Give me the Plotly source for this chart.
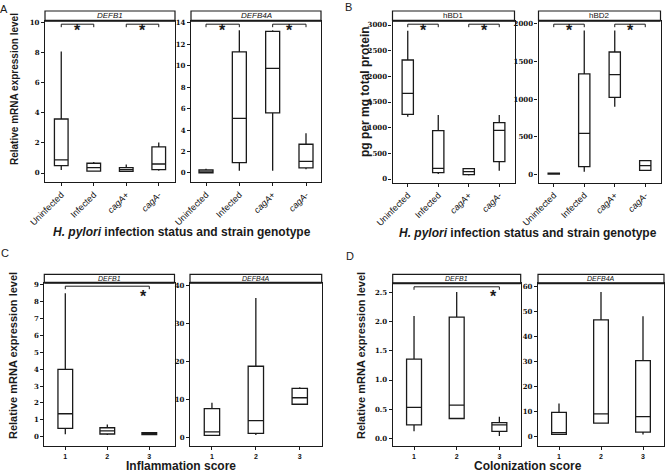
import plotly.graph_objects as go

W, H = 667, 476

# ---------------- data ----------------
infection_cats = ["Uninfected", "Infected", "cagA+", "cagA-"]
infection_ticktext = ["Uninfected", "Infected", "<i>cagA</i>+", "<i>cagA</i>-"]
score_cats = ["1", "2", "3"]

# Panel A: relative mRNA expression by infection status / strain genotype
A_defb1_low = [0.20, 0.10, 0.07, 0.15]
A_defb1_q1 = [0.49, 0.13, 0.11, 0.22]
A_defb1_med = [0.87, 0.36, 0.22, 0.60]
A_defb1_q3 = [3.60, 0.65, 0.36, 1.74]
A_defb1_high = [8.10, 0.73, 0.56, 2.03]

A_defb4a_low = [0.00, 0.22, 0.22, 0.34]
A_defb4a_q1 = [0.02, 0.97, 5.60, 0.47]
A_defb4a_med = [0.10, 5.10, 9.76, 1.09]
A_defb4a_q3 = [0.28, 11.30, 13.20, 2.68]
A_defb4a_high = [0.40, 13.30, 13.30, 3.70]

# Panel B: pg per mg total protein
B_hbd1_low = [1214, 97, 70, 162]
B_hbd1_q1 = [1260, 123, 84, 338]
B_hbd1_med = [1669, 208, 143, 948]
B_hbd1_q3 = [2318, 942, 201, 1097]
B_hbd1_high = [2890, 1247, 210, 1247]

B_hbd2_low = [0, 35, 900, 45]
B_hbd2_q1 = [2, 102, 1024, 53]
B_hbd2_med = [8, 545, 1326, 115]
B_hbd2_q3 = [15, 1335, 1627, 182]
B_hbd2_high = [18, 1911, 1911, 190]

# Panel C: by inflammation score
C_defb1_low = [0.14, 0.10, 0.12]
C_defb1_q1 = [0.49, 0.16, 0.13]
C_defb1_med = [1.36, 0.34, 0.18]
C_defb1_q3 = [3.99, 0.53, 0.24]
C_defb1_high = [8.49, 0.73, 0.26]

C_defb4a_low = [0.5, 0.6, 8.5]
C_defb4a_q1 = [0.5, 1.0, 8.7]
C_defb4a_med = [1.4, 4.4, 10.4]
C_defb4a_q3 = [7.55, 18.7, 12.9]
C_defb4a_high = [9.1, 36.7, 13.2]

# Panel D: by colonization score
D_defb1_low = [0.12, 0.34, 0.04]
D_defb1_q1 = [0.23, 0.34, 0.12]
D_defb1_med = [0.53, 0.57, 0.23]
D_defb1_q3 = [1.36, 2.08, 0.27]
D_defb1_high = [2.10, 2.51, 0.37]

D_defb4a_low = [0.9, 5.4, 0.9]
D_defb4a_q1 = [0.9, 5.4, 1.8]
D_defb4a_med = [1.6, 9.1, 8.0]
D_defb4a_q3 = [9.7, 46.5, 30.3]
D_defb4a_high = [13.2, 57.6, 48.0]

# --------------- layout specs ---------------
def px(x):
    return x / W


def py(y):
    return 1 - y / H


FONT = "Liberation Sans, Arial, sans-serif"
INK = "#1a1a1a"

subplots = [
    dict(cats=infection_cats, tt=infection_ticktext,
         stats=(A_defb1_low, A_defb1_q1, A_defb1_med, A_defb1_q3, A_defb1_high),
         bw=0.42, box=(45, 175, 11, 20.7, 182), yr=[-0.6, 10.15], dt=2, fmt="d",
         strip="<i>DEFB1</i>", xr=[-0.5, 3.5], rot=True),
    dict(cats=infection_cats, tt=infection_ticktext,
         stats=(A_defb4a_low, A_defb4a_q1, A_defb4a_med, A_defb4a_q3, A_defb4a_high),
         bw=0.42, box=(191, 321, 11, 20.7, 182), yr=[-0.84, 14.2], dt=2, fmt="d",
         strip="<i>DEFB4A</i>", xr=[-0.45, 3.45], rot=True),
    dict(cats=infection_cats, tt=infection_ticktext,
         stats=(B_hbd1_low, B_hbd1_q1, B_hbd1_med, B_hbd1_q3, B_hbd1_high),
         bw=0.37, box=(392.5, 514.5, 11, 20.7, 182.5), yr=[-68, 3084], dt=500, fmt="d",
         strip="hBD1", xr=[-0.5, 3.5], rot=True),
    dict(cats=infection_cats, tt=infection_ticktext,
         stats=(B_hbd2_low, B_hbd2_q1, B_hbd2_med, B_hbd2_q3, B_hbd2_high),
         bw=0.37, box=(538.5, 660.5, 11, 20.7, 182.5), yr=[-109, 2043], dt=500, fmt="d",
         strip="hBD2", xr=[-0.5, 3.5], rot=True),
    dict(cats=score_cats, tt=score_cats,
         stats=(C_defb1_low, C_defb1_q1, C_defb1_med, C_defb1_q3, C_defb1_high),
         bw=0.35, box=(44.3, 174.5, 274.3, 282.7, 446), yr=[-0.55, 9.12], dt=1, fmt="d",
         strip="<i>DEFB1</i>", xr=[-0.5, 2.6], rot=False),
    dict(cats=score_cats, tt=score_cats,
         stats=(C_defb4a_low, C_defb4a_q1, C_defb4a_med, C_defb4a_q3, C_defb4a_high),
         bw=0.35, box=(190, 321.7, 274.3, 282.7, 446), yr=[-2.3, 40.7], dt=10, fmt="d",
         strip="<i>DEFB4A</i>", xr=[-0.5, 2.5], rot=False),
    dict(cats=score_cats, tt=score_cats,
         stats=(D_defb1_low, D_defb1_q1, D_defb1_med, D_defb1_q3, D_defb1_high),
         bw=0.35, box=(392.7, 520.7, 274.3, 283.3, 446), yr=[-0.132, 2.66], dt=0.5, fmt=".1f",
         strip="<i>DEFB1</i>", xr=[-0.5, 2.5], rot=False),
    dict(cats=score_cats, tt=score_cats,
         stats=(D_defb4a_low, D_defb4a_q1, D_defb4a_med, D_defb4a_q3, D_defb4a_high),
         bw=0.35, box=(538, 664, 274.3, 283.3, 446), yr=[-3.7, 61.1], dt=10, fmt="d",
         strip="<i>DEFB4A</i>", xr=[-0.5, 2.5], rot=False),
]

# significance brackets: (subplot index, from category, to category, star position)
brackets = [
    (0, "Uninfected", "Infected", "mid"),
    (0, "cagA+", "cagA-", "mid"),
    (1, "Uninfected", "Infected", "mid"),
    (1, "cagA+", "cagA-", "mid"),
    (2, "Uninfected", "Infected", "mid"),
    (2, "cagA+", "cagA-", "mid"),
    (3, "Uninfected", "Infected", "mid"),
    (3, "cagA+", "cagA-", "mid"),
    (4, "1", "3", "end"),
    (6, "1", "3", "end"),
]

fig = go.Figure()
layout = dict(
    template="none",
    width=W, height=H, margin=dict(l=0, r=0, t=0, b=0, autoexpand=False),
    paper_bgcolor="white", plot_bgcolor="white", showlegend=False,
    font=dict(family=FONT, color=INK),
)
shapes = []
annotations = []

for i, sp in enumerate(subplots):
    n = i + 1
    xa = "xaxis" if n == 1 else f"xaxis{n}"
    ya = "yaxis" if n == 1 else f"yaxis{n}"
    xr_ = "x" if n == 1 else f"x{n}"
    yr_ = "y" if n == 1 else f"y{n}"
    L, R, ST, PT, B = sp["box"]
    low, q1, med, q3, high = sp["stats"]
    fig.add_trace(go.Box(
        x=sp["cats"], lowerfence=low, q1=q1, median=med, q3=q3, upperfence=high,
        width=sp["bw"], fillcolor="white", line=dict(color=INK, width=1.3),
        whiskerwidth=0, boxpoints=False, hoverinfo="skip",
        xaxis=xr_, yaxis=yr_,
    ))
    layout[xa] = dict(
        domain=[px(L), px(R)], anchor=yr_, type="category", automargin=False,
        categoryorder="array", categoryarray=sp["cats"],
        range=sp["xr"], tickmode="array", tickvals=sp["cats"], ticktext=sp["tt"],
        showline=True, mirror=True, linecolor=INK, linewidth=1.2,
        ticks="outside", ticklen=3, tickcolor=INK, showgrid=False, zeroline=False,
        tickangle=-45 if sp["rot"] else 0,
        tickfont=dict(size=9 if sp["rot"] else 7, family=FONT, color="#111111",
                      weight="normal" if sp["rot"] else "bold"),
    )
    layout[ya] = dict(
        domain=[py(B), py(PT)], anchor=xr_, range=sp["yr"], dtick=sp["dt"], tick0=0,
        automargin=False,
        tickformat=sp["fmt"], showline=True, mirror=True, linecolor=INK, linewidth=1.2,
        ticks="outside", ticklen=3, tickcolor=INK, showgrid=False, zeroline=False,
        tickfont=dict(size=7, family="DejaVu Serif, serif", color="#111111", weight="bold"),
    )
    shapes.append(dict(type="rect", xref="paper", yref="paper",
                       x0=px(L), x1=px(R), y0=py(PT), y1=py(ST),
                       line=dict(color=INK, width=1.2), fillcolor="white", layer="above"))
    shapes.append(dict(type="line", xref="paper", yref="paper",
                       x0=px(L), x1=px(R), y0=py(PT), y1=py(PT),
                       line=dict(color=INK, width=2), layer="above"))
    annotations.append(dict(xref="paper", yref="paper", x=px((L + R) / 2), y=py((ST + PT) / 2),
                            text=sp["strip"], showarrow=False, xanchor="center", yanchor="middle",
                            font=dict(size=8 if sp["rot"] else 7, family=FONT, color="#111111")))

for (k, c0, c1, pos) in brackets:
    sp = subplots[k]
    n = k + 1
    xr_ = "x" if n == 1 else f"x{n}"
    yd = ("y" if n == 1 else f"y{n}") + " domain"
    L, R, ST, PT, B = sp["box"]
    hpx = B - PT
    top = 1 - 3.5 / hpx
    tick = 1 - 6.5 / hpx
    i0, i1 = sp["cats"].index(c0), sp["cats"].index(c1)
    for (xa0, ya0, xa1, ya1) in [(i0, top, i1, top), (i0, top, i0, tick), (i1, top, i1, tick)]:
        shapes.append(dict(type="line", xref=xr_, yref=yd, x0=xa0, x1=xa1, y0=ya0, y1=ya1,
                           line=dict(color=INK, width=1)))
    if pos == "mid":
        sx, sy = (i0 + i1) / 2, 1 - 10 / hpx
    else:
        sx, sy = i1 - 0.13, 1 - 13.5 / hpx
    annotations.append(dict(xref=xr_, yref=yd, x=sx, y=sy, text="<b>*</b>", showarrow=False,
                            xanchor="center", yanchor="middle",
                            font=dict(size=16, family=FONT, color=INK)))

# axis titles
ytitle = dict(textangle=-90, showarrow=False, xref="paper", yref="paper",
              xanchor="center", yanchor="middle")
annotations += [
    dict(ytitle, x=px(14), y=py(89), text="<b>Relative mRNA expression level</b>",
         font=dict(size=10, family="Liberation Sans Narrow, " + FONT, color=INK)),
    dict(ytitle, x=px(365), y=py(92), text="<b>pg per mg total protein</b>",
         font=dict(size=12, family=FONT, color=INK)),
    dict(ytitle, x=px(13), y=py(356), text="<b>Relative mRNA expression level</b>",
         font=dict(size=11, family=FONT, color=INK)),
    dict(ytitle, x=px(361), y=py(356), text="<b>Relative mRNA expression level</b>",
         font=dict(size=11, family=FONT, color=INK)),
]
xt = dict(showarrow=False, xref="paper", yref="paper", xanchor="center", yanchor="middle")
annotations += [
    dict(xt, x=px(182), y=py(232), text="<b><i>H. pylori</i> infection status and strain genotype</b>",
         font=dict(size=12, family=FONT, color=INK)),
    dict(xt, x=px(528), y=py(233), text="<b><i>H. pylori</i> infection status and strain genotype</b>",
         font=dict(size=12, family=FONT, color=INK)),
    dict(xt, x=px(181), y=py(466), text="<b>Inflammation score</b>",
         font=dict(size=12, family=FONT, color=INK)),
    dict(xt, x=px(528), y=py(466), text="<b>Colonization score</b>",
         font=dict(size=12, family=FONT, color=INK)),
]
for letter, x, y in [("A", 4, 9), ("B", 348, 7), ("C", 5, 253), ("D", 350, 256)]:
    annotations.append(dict(xt, x=px(x), y=py(y), text=letter,
                            font=dict(size=11, family=FONT, color=INK)))

layout["shapes"] = shapes
layout["annotations"] = annotations
fig.update_layout(**layout)
fig.write_html(
    "out.html",
    config={"displayModeBar": False},
    post_script="document.body.style.margin='0px';document.body.style.padding='0px';"
                "document.documentElement.style.overflow='hidden';",
)
